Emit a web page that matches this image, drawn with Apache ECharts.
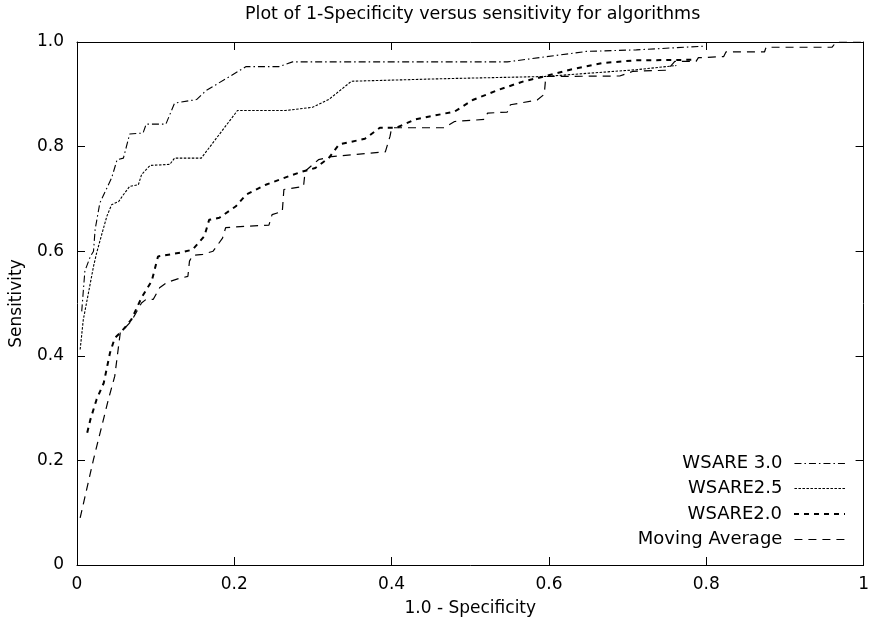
<!DOCTYPE html>
<html>
<head>
<meta charset="utf-8">
<script src="https://cdn.jsdelivr.net/npm/echarts@6/dist/echarts.min.js"></script>
<style>
html,body{margin:0;padding:0;background:#fff;}
#chart{width:872px;height:622px;}
</style>
</head>
<body>
<div id="chart"></div>
<script>
// ---- data (x = 1 - specificity, y = sensitivity) ----
var seriesNames = ['WSARE 3.0', 'WSARE2.5', 'WSARE2.0', 'Moving Average'];

var wsare30 = [
  [0.006,0.485],[0.010,0.562],[0.017,0.590],[0.021,0.600],[0.023,0.641],[0.029,0.692],
  [0.038,0.721],[0.044,0.740],[0.051,0.775],[0.059,0.778],[0.067,0.824],[0.084,0.826],
  [0.088,0.843],[0.113,0.843],[0.124,0.883],[0.152,0.890],[0.164,0.907],[0.215,0.953],
  [0.257,0.953],[0.274,0.962],[0.547,0.962],[0.648,0.982],[0.711,0.985],[0.798,0.992]
];

var wsare25 = [
  [0.004,0.412],[0.008,0.469],[0.013,0.508],[0.021,0.571],[0.025,0.597],[0.032,0.635],
  [0.038,0.667],[0.044,0.689],[0.053,0.695],[0.059,0.708],[0.067,0.724],[0.078,0.727],
  [0.082,0.746],[0.086,0.753],[0.093,0.764],[0.118,0.766],[0.124,0.778],[0.158,0.778],
  [0.204,0.869],[0.265,0.869],[0.299,0.875],[0.320,0.890],[0.349,0.925],[0.470,0.930],
  [0.594,0.934],[0.711,0.947],[0.762,0.955]
];

var wsare20 = [
  [0.013,0.253],[0.017,0.278],[0.025,0.317],[0.034,0.348],[0.042,0.406],[0.048,0.434],
  [0.057,0.447],[0.069,0.469],[0.082,0.511],[0.095,0.543],[0.103,0.590],[0.131,0.597],
  [0.147,0.603],[0.162,0.629],[0.168,0.660],[0.181,0.664],[0.202,0.686],[0.215,0.708],
  [0.240,0.727],[0.274,0.746],[0.288,0.753],[0.303,0.759],[0.320,0.778],[0.333,0.804],
  [0.345,0.808],[0.366,0.815],[0.385,0.836],[0.406,0.836],[0.430,0.852],[0.480,0.867],
  [0.503,0.889],[0.535,0.908],[0.568,0.925],[0.594,0.934],[0.627,0.947],[0.669,0.960],
  [0.711,0.965],[0.787,0.966]
];

var movingAverage = [
  [0.004,0.090],[0.021,0.202],[0.040,0.317],[0.048,0.361],[0.055,0.444],[0.069,0.466],
  [0.082,0.501],[0.088,0.508],[0.097,0.508],[0.105,0.530],[0.114,0.540],[0.128,0.547],
  [0.141,0.552],[0.143,0.581],[0.147,0.592],[0.160,0.594],[0.173,0.600],[0.185,0.625],
  [0.189,0.645],[0.219,0.648],[0.244,0.650],[0.248,0.670],[0.261,0.676],[0.263,0.718],
  [0.288,0.724],[0.290,0.753],[0.307,0.775],[0.324,0.781],[0.392,0.790],[0.398,0.820],
  [0.400,0.836],[0.467,0.836],[0.480,0.848],[0.518,0.852],[0.522,0.864],[0.547,0.866],
  [0.551,0.880],[0.585,0.889],[0.594,0.900],[0.596,0.934],[0.690,0.935],[0.707,0.944],
  [0.750,0.946],[0.760,0.963],[0.787,0.963],[0.790,0.970],[0.822,0.972],[0.825,0.981],
  [0.874,0.981],[0.876,0.990],[0.960,0.990],[0.965,1.000],[1.000,1.000]
];

var xTickLabels = ['0','0.2','0.4','0.6','0.8','1'];
var yTickLabels = ['0','0.2','0.4','0.6','0.8','1.0'];

// ---- styles ----
var FONT = 'DejaVu Sans';
var styles = [
  {width:1.1, type:[7,3,1.5,3]},
  {width:1.1, type:[2.5,1.5]},
  {width:2, type:[5,5]},
  {width:1.2, type:[8,6]}
];
var seriesData = [wsare30, wsare25, wsare20, movingAverage];
var legendTops = [463.5, 488.5, 514, 539.5];

function tickIndex(v){ return Math.round(v / 0.2); }

var axisCommon = {
  type: 'value', min: 0, max: 1, interval: 0.2,
  axisLine: {show: true, onZero: false, lineStyle: {color: '#000', width: 1}},
  axisTick: {show: true, inside: true, length: 8, lineStyle: {color: '#000', width: 1}},
  splitLine: {show: false}
};

function mk(extra){ return Object.assign({}, JSON.parse(JSON.stringify(axisCommon)), extra); }

var chart = echarts.init(document.getElementById('chart'), null, {renderer: 'canvas'});

var series = seriesNames.map(function(name, i){
  return {
    name: name, type: 'line', data: seriesData[i], xAxisIndex: 0, yAxisIndex: 0,
    symbol: 'none', showSymbol: false, animation: false,
    itemStyle: {color: '#000'},
    lineStyle: {color: '#000', width: styles[i].width, type: styles[i].type}
  };
});

var legends = seriesNames.map(function(name, i){
  return {
    data: [name], right: 26, top: legendTops[i] - 10, orient: 'horizontal',
    align: 'right', padding: 0, itemWidth: 51, itemHeight: 14, selectedMode: false,
    textStyle: {fontFamily: FONT, fontSize: 18, color: '#000', lineHeight: 20, padding: [0, 7, 0, 0]},
    itemStyle: {opacity: 0},
    lineStyle: {color: '#000', width: styles[i].width, type: styles[i].type, opacity: 1}
  };
});

var option = {
  animation: false,
  backgroundColor: '#fff',
  title: {
    text: 'Plot of 1-Specificity versus sensitivity for algorithms',
    left: 245, top: 5, padding: 0,
    textStyle: {fontFamily: FONT, fontSize: 17.5, fontWeight: 'normal', color: '#000'}
  },
  grid: {left: 77, right: 5, top: 42, bottom: 56, containLabel: false},
  xAxis: [
    mk({position: 'bottom',
      name: '1.0 - Specificity', nameLocation: 'middle', nameGap: 35,
      nameTextStyle: {fontFamily: FONT, fontSize: 17, color: '#000'},
      axisLabel: {show: true, margin: 11, color: '#000', fontFamily: FONT, fontSize: 17,
        formatter: function(v){ return xTickLabels[tickIndex(v)]; }}}),
    mk({position: 'top', axisLabel: {show: false}})
  ],
  yAxis: [
    mk({position: 'left',
      name: 'Sensitivity', nameLocation: 'middle', nameGap: 52, nameRotate: 90,
      nameTextStyle: {fontFamily: FONT, fontSize: 17, color: '#000'},
      axisLabel: {show: true, margin: 13, color: '#000', fontFamily: FONT, fontSize: 17,
        formatter: function(v){ return yTickLabels[tickIndex(v)]; }}}),
    mk({position: 'right', axisLabel: {show: false}})
  ],
  legend: legends,
  series: series
};

chart.setOption(option);
</script>
</body>
</html>
